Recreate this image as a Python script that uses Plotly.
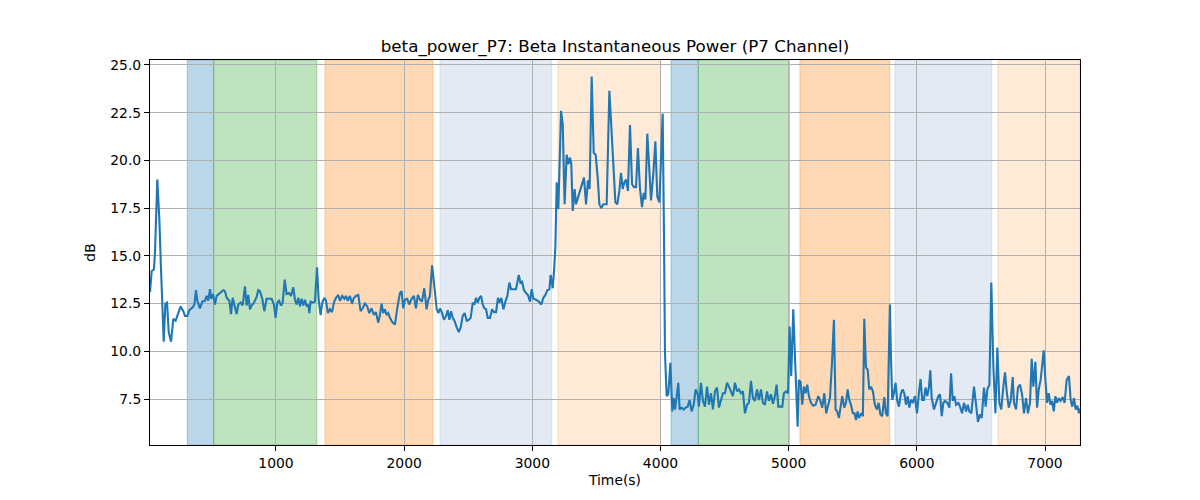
import plotly.graph_objects as go

# ---- data ----
times = [17, 30, 48, 56, 74, 90, 103, 113, 124, 137, 150, 163, 181, 199, 217, 230, 256, 277, 290, 308,
         324, 350, 363, 376, 386, 407, 425, 446, 459, 472, 485, 495, 508, 524, 537, 563, 589, 602, 615, 636,
         649, 662, 675, 693, 706, 724, 740, 758, 771, 784, 797, 810, 828, 849, 862, 875, 893, 909, 927, 953,
         966, 984, 997, 1010, 1023, 1039, 1052, 1068, 1083, 1101, 1117,
         1135, 1148, 1161, 1174, 1187, 1200, 1213, 1226, 1239, 1252, 1260, 1270, 1286, 1304, 1320, 1333, 1348,
         1361, 1377, 1390, 1405, 1421, 1437, 1452, 1468, 1486, 1499, 1517, 1533, 1546, 1559, 1577, 1593, 1608,
         1624, 1642, 1660, 1676, 1694, 1712, 1728, 1746, 1764, 1780, 1798, 1811, 1824, 1837, 1850, 1863, 1876,
         1889, 1910, 1928, 1946, 1967, 1980, 1993, 2006, 2024, 2040, 2058, 2076, 2092, 2107, 2123, 2139, 2157,
         2175, 2188, 2201, 2218,
         2238, 2254, 2267, 2280, 2296, 2311, 2327, 2340, 2353, 2366, 2379, 2392, 2410, 2426, 2441, 2457, 2472,
         2488, 2504, 2519, 2535, 2548, 2561, 2574, 2587, 2600, 2613, 2626, 2639, 2652, 2670, 2686, 2701, 2717,
         2732, 2743, 2758, 2774, 2790, 2805, 2821, 2834, 2852, 2873, 2894, 2907, 2920, 2935, 2951, 2966, 2982,
         2995, 3008, 3029, 3050, 3070, 3086, 3102, 3117, 3133, 3143, 3159, 3170, 3180,
         3190, 3203, 3224, 3237, 3252, 3268, 3281, 3294, 3304, 3315, 3330, 3341, 3356, 3372, 3388, 3403, 3419,
         3434, 3447, 3463, 3479, 3494, 3510, 3523, 3538, 3554, 3580, 3601, 3614, 3632, 3648, 3663, 3679, 3692,
         3705, 3718, 3731, 3746, 3762, 3778, 3793, 3809, 3824, 3840, 3856, 3869, 3882, 3897, 3913, 3926, 3944,
         3960, 3975, 3991, 4004, 4017,
         4027, 4035, 4048, 4061, 4077, 4092, 4103, 4113, 4123, 4139, 4149, 4165, 4181, 4196, 4212, 4227, 4243,
         4259, 4274, 4290, 4300, 4316, 4331, 4347, 4363, 4378, 4394, 4409, 4425, 4441, 4456, 4472, 4487, 4503,
         4519, 4534, 4550, 4565, 4581, 4597, 4612, 4628, 4643, 4659, 4675, 4690, 4706, 4721, 4737, 4753, 4768,
         4784, 4799, 4815, 4831, 4846, 4862, 4877, 4893, 4906, 4919, 4935, 4950, 4963, 4979, 4995,
         5007, 5020, 5036, 5049, 5062, 5070, 5080, 5093, 5106, 5119, 5132, 5145, 5158, 5174, 5192, 5210, 5231,
         5247, 5262, 5278, 5293, 5309, 5322, 5338, 5353, 5366, 5379, 5392, 5405, 5418, 5434, 5447, 5460, 5473,
         5486, 5501, 5514, 5525, 5538, 5548, 5564, 5579, 5590, 5603, 5616, 5629, 5642, 5657, 5673, 5689, 5702,
         5715, 5730, 5746, 5759, 5772, 5782, 5790, 5798, 5808, 5821, 5834, 5847, 5860, 5876, 5889, 5902, 5915,
         5928, 5941, 5954, 5969, 5985, 6001, 6016, 6029, 6042, 6055, 6068, 6081, 6094, 6105,
         6116, 6134, 6150, 6168, 6181, 6194, 6207, 6220, 6238, 6254, 6267, 6280, 6293, 6306, 6324, 6337, 6353,
         6368, 6384, 6397, 6410, 6425, 6446, 6462, 6477, 6493, 6506, 6524, 6537, 6550, 6566, 6581, 6597, 6613,
         6628, 6644, 6659, 6675, 6688, 6701, 6717, 6732, 6748, 6758, 6774, 6789, 6805, 6821, 6836, 6852, 6867,
         6883, 6896, 6909, 6925, 6938, 6951, 6966, 6977, 6990, 7003, 7016, 7029, 7042, 7055, 7068, 7081, 7094,
         7107, 7122, 7138, 7153, 7169, 7187, 7200, 7213, 7226, 7239, 7252, 7265, 7273]

beta_power_db = [13.1, 14.2, 14.3, 15.2, 19.0, 16.9, 14.3, 12.0, 10.5, 12.5, 12.55, 11.0, 10.5, 11.7, 11.6, 11.85, 12.35, 12.1, 11.85, 11.85,
                 12.15, 12.3, 12.45, 13.2, 12.65, 12.25, 12.6, 12.65, 12.9, 12.65, 13.25, 12.75, 13.0, 12.45, 12.9, 13.05, 13.2, 13.15, 12.8, 12.65,
                 11.95, 12.8, 12.5, 11.95, 12.45, 12.55, 12.4, 13.4, 12.4, 12.95, 12.2, 12.4, 12.55, 12.85, 13.2, 13.15, 12.75, 12.1, 12.75, 12.75,
                 12.75, 12.45, 11.75, 12.55, 12.65, 12.4, 12.55, 13.75, 13.0, 13.05, 12.9,
                 13.35, 12.7, 12.45, 12.8, 12.35, 12.75, 12.4, 12.7, 12.35, 12.45, 12.0, 12.6, 12.55, 12.6, 14.4, 12.7, 11.9,
                 12.55, 12.8, 12.65, 12.0, 12.2, 12.05, 12.55, 12.8, 12.95, 12.65, 12.9, 12.75, 12.9, 12.65, 12.9, 12.5, 12.8,
                 12.9, 12.95, 12.1, 12.25, 12.5, 12.35, 12.0, 12.25, 11.9, 12.05, 11.5, 11.9, 12.5, 12.0, 12.2, 11.9, 12.0,
                 11.75, 11.5, 11.4, 12.25, 13.05, 13.15, 12.25, 12.7, 12.75, 12.45, 12.75, 12.9, 12.25, 12.95, 12.7, 12.6, 13.3,
                 12.2, 12.7, 12.9, 14.5,
                 13.25, 12.2, 12.0, 12.25, 12.0, 11.65, 11.85, 12.15, 11.65, 12.1, 11.75, 11.6, 11.25, 11.0, 11.25, 11.85, 12.0,
                 11.6, 11.65, 11.75, 12.55, 12.45, 12.8, 12.55, 12.8, 12.9, 12.45, 12.25, 12.2, 11.75, 11.75, 12.2, 12.05, 12.05,
                 12.8, 12.55, 12.8, 12.2, 12.6, 12.9, 13.6, 13.25, 13.25, 13.25, 14.0, 13.6, 13.65, 13.2, 13.05, 12.95, 12.6,
                 13.25, 12.75, 12.7, 12.6, 12.45, 12.8, 12.95, 13.2, 13.25, 14.0, 13.3, 14.25, 15.5,
                 18.85, 17.45, 22.6, 21.9, 17.7, 20.3, 19.8, 20.15, 19.8, 17.35, 18.5, 17.7, 18.05, 18.4, 18.65, 19.1, 17.7,
                 18.95, 18.5, 24.4, 20.4, 20.3, 19.1, 17.7, 17.5, 17.7, 17.7, 23.65, 22.05, 19.45, 17.8, 17.7, 18.4, 19.35,
                 18.5, 18.85, 19.0, 18.4, 21.85, 18.75, 18.6, 18.6, 20.65, 18.5, 17.55, 18.3, 17.95, 21.4, 19.3, 17.9, 19.3,
                 21.0, 18.1, 17.8, 20.05, 22.45,
                 16.2, 9.9, 7.65, 7.75, 9.4, 6.85, 7.55, 6.95, 7.45, 8.35, 6.95, 7.05, 6.95, 7.05, 7.1, 7.45, 6.85,
                 7.2, 8.0, 7.75, 7.1, 8.35, 7.4, 7.1, 8.15, 7.2, 7.8, 6.95, 7.9, 8.1, 7.05, 7.45, 7.8, 7.8,
                 8.35, 8.15, 7.9, 7.65, 8.35, 7.9, 8.0, 7.8, 7.9, 6.75, 7.2, 7.3, 8.45, 7.55, 7.4, 8.0, 7.45,
                 8.0, 7.3, 7.2, 7.9, 7.4, 7.75, 7.25, 7.65, 8.25, 7.1, 7.1, 7.1, 7.8, 7.9, 7.8,
                 11.3, 8.7, 12.2, 9.75, 7.45, 6.05, 8.5, 8.4, 7.2, 8.15, 7.8, 8.25, 7.65, 7.3, 7.15, 7.2, 7.65,
                 7.4, 7.05, 7.8, 6.75, 7.3, 7.55, 9.4, 11.65, 6.95, 6.85, 6.5, 7.2, 7.65, 7.05, 7.3, 8.0, 7.45,
                 7.2, 6.75, 6.75, 6.4, 6.85, 6.5, 6.75, 6.6, 11.7, 9.15, 9.05, 8.0, 8.15, 7.9, 7.2, 6.95, 7.3,
                 6.7, 6.6, 7.6, 6.75, 6.6, 9.9, 12.45, 9.75, 7.45, 7.8, 8.35, 7.4, 7.1, 7.8, 8.0, 7.8, 7.2,
                 7.65, 7.05, 7.45, 7.3, 7.65, 6.75, 7.8, 8.55, 7.45, 7.45, 8.1, 7.65, 8.1, 9.0,
                 7.55, 6.95, 7.3, 7.65, 7.75, 6.6, 7.3, 7.4, 7.3, 7.05, 8.85, 7.4, 7.65, 7.2, 7.3, 7.1, 6.75,
                 7.3, 6.85, 7.2, 6.85, 6.75, 8.15, 7.1, 6.3, 6.7, 6.5, 8.1, 7.1, 8.0, 8.25, 13.6, 9.2, 6.75,
                 10.2, 7.3, 6.95, 8.15, 8.9, 7.9, 7.05, 7.4, 8.65, 7.3, 6.95, 8.1, 8.25, 7.75, 6.75, 7.55, 6.75,
                 7.3, 9.6, 8.15, 9.45, 7.05, 8.0, 8.5, 9.2, 10.05, 8.5, 7.3, 7.8, 7.2, 7.4, 6.85, 7.65, 7.3,
                 7.55, 7.4, 7.6, 7.3, 8.5, 8.7, 7.45, 7.1, 7.55, 6.95, 7.15, 6.75, 7.0]

# phase intervals (seconds) and their phase kind
band_start = [308, 514, 1382, 2280, 3200, 4082, 4295, 5088, 5830, 6633]
band_end = [514, 1318, 2223, 3151, 4001, 4295, 5005, 5788, 6584, 7273]
band_kind = ["k1", "k2", "k3", "k4", "k5", "k1", "k2", "k3", "k4", "k5"]

y_ticks = [7.5, 10.0, 12.5, 15.0, 17.5, 20.0, 22.5, 25.0]
x_ticks = [1000, 2000, 3000, 4000, 5000, 6000, 7000]

# ---- styles ----
kind_fill = {
    "k1": "rgba(31,119,180,0.3)",
    "k2": "rgba(44,160,44,0.3)",
    "k3": "rgba(255,127,14,0.3)",
    "k4": "rgba(176,196,222,0.35)",
    "k5": "rgba(255,127,14,0.16)",
}
kind_edge = {
    "k1": "rgba(31,119,180,0.35)",
    "k2": "rgba(44,160,44,0.4)",
    "k3": "rgba(255,127,14,0.35)",
    "k4": "rgba(176,196,222,0.4)",
    "k5": "rgba(255,127,14,0.2)",
}

FONT = "DejaVu Sans, Liberation Sans, sans-serif"

# page body has an 8px default margin; figure size / margins compensate for it
W, H = 1192, 492

fig = go.Figure()

for s, e, k in zip(band_start, band_end, band_kind):
    fig.add_shape(type="rect", xref="x", yref="paper", x0=s, x1=e, y0=0, y1=1,
                  fillcolor=kind_fill[k], line=dict(color=kind_edge[k], width=1),
                  layer="below")

fig.add_trace(go.Scatter(x=times, y=beta_power_db, mode="lines",
                         line=dict(color="#1f77b4", width=2.1), showlegend=False))

fig.update_layout(
    width=W, height=H,
    margin=dict(l=142, r=120, t=52, b=55),
    paper_bgcolor="white", plot_bgcolor="white",
    font=dict(family=FONT, size=13.9, color="black"),
    title=dict(text="beta_power_P7: Beta Instantaneous Power (P7 Channel)",
               x=(615 - 8) / W, xanchor="center", y=1 - 38 / H, yanchor="middle",
               font=dict(family=FONT, size=16.7, color="black")),
)

fig.update_xaxes(range=[17, 7273], tickvals=x_ticks, ticktext=[str(v) for v in x_ticks],
                 showline=True, linecolor="black", linewidth=1, mirror=True,
                 ticks="outside", ticklen=5, tickcolor="black",
                 tickfont=dict(size=13.9),
                 showgrid=True, gridcolor="#b0b0b0", gridwidth=1, zeroline=False,
                 title=dict(text="Time(s)", standoff=5, font=dict(size=13.9)))
fig.update_yaxes(range=[5.09, 25.26], tickvals=y_ticks, ticktext=[f"{v:.1f}" for v in y_ticks],
                 showline=True, linecolor="black", linewidth=1, mirror=True,
                 ticks="outside", ticklen=5, tickcolor="black",
                 tickfont=dict(size=13.9),
                 showgrid=True, gridcolor="#b0b0b0", gridwidth=1, zeroline=False,
                 title=dict(text="dB", standoff=11, font=dict(size=13.9)))

fig.write_html("out.html")
